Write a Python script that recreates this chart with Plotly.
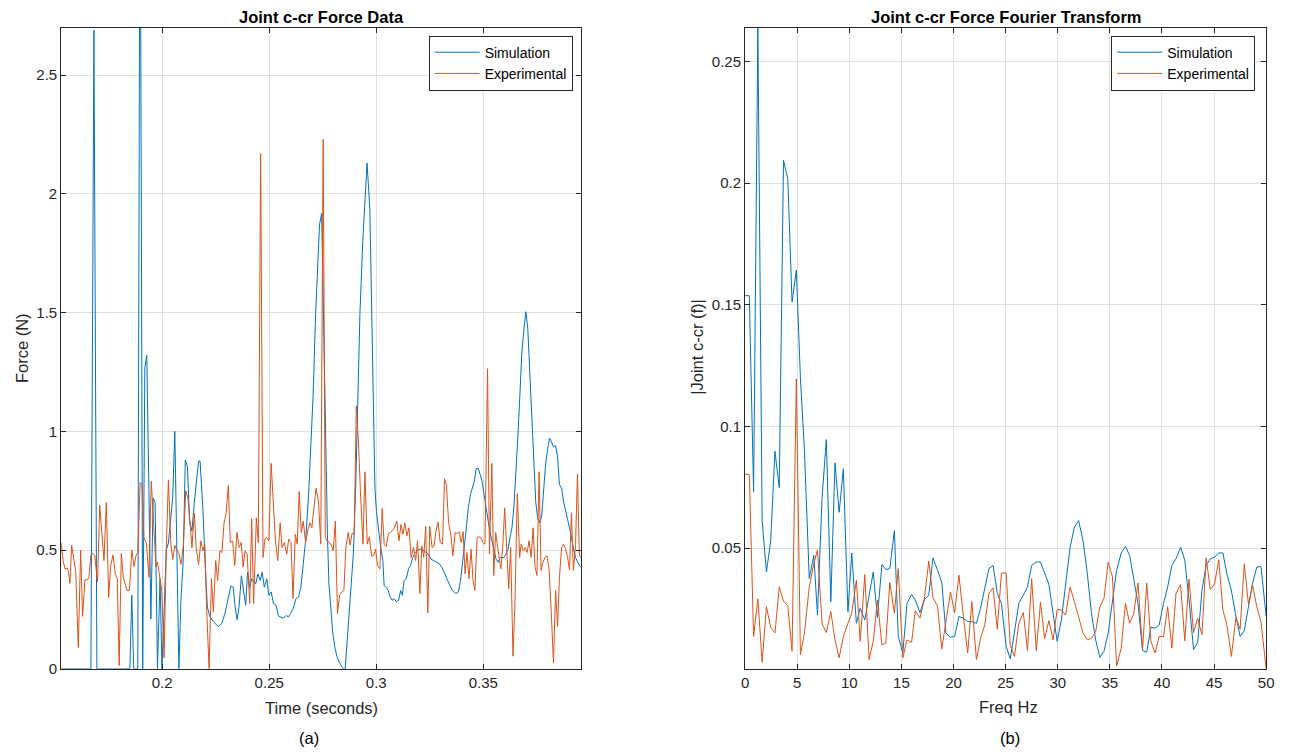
import plotly.graph_objects as go

# ---- Time-domain joint force (N) ----
sim_time = [
    0.1528, 0.1667, 0.1681, 0.1695, 0.1849, 0.1858, 0.1867, 0.1886, 0.1897, 0.1909,
    0.1919, 0.1928, 0.1938, 0.1947, 0.1958, 0.1967, 0.1978, 0.1990, 0.1999, 0.2009,
    0.2019, 0.2029, 0.2040, 0.2049, 0.2059, 0.2068, 0.2078, 0.2088, 0.2098, 0.2108,
    0.2118, 0.2128, 0.2139, 0.2150, 0.2161, 0.2170, 0.2177, 0.2190, 0.2200, 0.2211,
    0.2223, 0.2239, 0.2262, 0.2278, 0.2293, 0.2309, 0.2321, 0.2332, 0.2339, 0.2350,
    0.2359, 0.2370, 0.2381, 0.2390, 0.2399, 0.2409, 0.2418, 0.2427, 0.2437, 0.2447,
    0.2458, 0.2467, 0.2477, 0.2489, 0.2498, 0.2509, 0.2520, 0.2532, 0.2544, 0.2555,
    0.2566, 0.2579, 0.2589, 0.2600, 0.2612, 0.2625, 0.2637, 0.2648, 0.2659, 0.2671,
    0.2684, 0.2696, 0.2705, 0.2717, 0.2727, 0.2735, 0.2745, 0.2757, 0.2764, 0.2772,
    0.2779, 0.2788, 0.2797, 0.2806, 0.2816, 0.2827, 0.2837, 0.2846, 0.2855, 0.2863,
    0.2873, 0.2883, 0.2893, 0.2904, 0.2913, 0.2924, 0.2937, 0.2949, 0.2957, 0.2970,
    0.2978, 0.2987, 0.2994, 0.3001, 0.3012, 0.3021, 0.3031, 0.3037, 0.3046, 0.3056,
    0.3065, 0.3074, 0.3083, 0.3094, 0.3105, 0.3114, 0.3122, 0.3130, 0.3140, 0.3151,
    0.3160, 0.3171, 0.3182, 0.3194, 0.3207, 0.3219, 0.3231, 0.3244, 0.3256, 0.3269,
    0.3281, 0.3293, 0.3306, 0.3318, 0.3330, 0.3343, 0.3355, 0.3372, 0.3384, 0.3394,
    0.3403, 0.3412, 0.3421, 0.3430, 0.3440, 0.3449, 0.3458, 0.3467, 0.3477, 0.3486,
    0.3495, 0.3504, 0.3514, 0.3523, 0.3532, 0.3542, 0.3551, 0.3560, 0.3569, 0.3579,
    0.3588, 0.3597, 0.3606, 0.3616, 0.3625, 0.3634, 0.3643, 0.3653, 0.3662, 0.3671,
    0.3680, 0.3690, 0.3699, 0.3708, 0.3717, 0.3727, 0.3736, 0.3745, 0.3754, 0.3764,
    0.3773, 0.3782, 0.3791, 0.3801, 0.3810, 0.3819, 0.3828, 0.3838, 0.3847, 0.3856,
    0.3866, 0.3875, 0.3884, 0.3894, 0.3903, 0.3912, 0.3921, 0.3931, 0.3940, 0.3949,
    0.3958,
]
sim_force = [
    0.0, 0.0, 2.69, 0.0, 0.0, 0.31, 0.0, 0.0, 3.6, 0.0,
    1.27, 1.32, 0.75, 0.21, 0.72, 0.70, 0.0, 0.38, 0.0, 0.22,
    0.50, 0.53, 0.62, 0.72, 1.0, 0.5, 0.0, 0.30, 0.45, 0.88,
    0.85, 0.62, 0.58, 0.70, 0.80, 0.875, 0.875, 0.678, 0.455, 0.26,
    0.22, 0.199, 0.178, 0.19, 0.233, 0.303, 0.349, 0.344, 0.275, 0.206,
    0.261, 0.392, 0.33, 0.268, 0.407, 0.344, 0.379, 0.372, 0.358, 0.40,
    0.372, 0.407, 0.344, 0.379, 0.31, 0.324, 0.275, 0.268, 0.222, 0.219,
    0.213, 0.225, 0.219, 0.233, 0.254, 0.296, 0.303, 0.344, 0.442, 0.55,
    0.733, 0.942, 1.15, 1.50, 1.75, 1.87, 1.918, 1.289, 0.9, 0.567,
    0.358, 0.233, 0.15, 0.094, 0.053, 0.028, 0.011, 0.0, 0.0, 0.094,
    0.233, 0.33, 0.483, 0.761, 1.136, 1.5, 1.80, 2.01, 2.13, 1.94,
    1.5, 1.01, 0.76, 0.663, 0.567, 0.511, 0.455, 0.351, 0.344, 0.33,
    0.303, 0.289, 0.296, 0.282, 0.289, 0.33, 0.31, 0.372, 0.379, 0.421,
    0.435, 0.469, 0.49, 0.50, 0.504, 0.50, 0.49, 0.483, 0.462, 0.456,
    0.449, 0.444, 0.428, 0.407, 0.379, 0.351, 0.33, 0.317, 0.324, 0.372,
    0.44, 0.511, 0.594, 0.678, 0.733, 0.761, 0.789, 0.844, 0.844, 0.817,
    0.789, 0.733, 0.667, 0.622, 0.574, 0.532, 0.497, 0.462, 0.449, 0.469,
    0.469, 0.469, 0.483, 0.504, 0.553, 0.594, 0.678, 0.817, 0.983, 1.15,
    1.33, 1.43, 1.504, 1.435, 1.25, 1.04, 0.844, 0.706, 0.636, 0.615,
    0.643, 0.747, 0.858, 0.928, 0.972, 0.955, 0.935, 0.94, 0.893, 0.775,
    0.761, 0.706, 0.664, 0.629, 0.594, 0.546, 0.511, 0.469, 0.449, 0.435,
    0.428,
]

exp_time = [
    0.1528, 0.1537, 0.1546, 0.1556, 0.1562, 0.1569, 0.1577, 0.1586, 0.1596, 0.1608,
    0.1619, 0.1628, 0.1639, 0.1648, 0.1657, 0.1667, 0.1676, 0.1685, 0.1698, 0.1708,
    0.1721, 0.1728, 0.1739, 0.1750, 0.1759, 0.1770, 0.1781, 0.1790, 0.1799, 0.1809,
    0.1818, 0.1827, 0.1836, 0.1847, 0.1858, 0.1869, 0.1877, 0.1886, 0.1897, 0.1906,
    0.1915, 0.1926, 0.1938, 0.1949, 0.1960, 0.1971, 0.1978, 0.1988, 0.1998, 0.2009,
    0.2019, 0.2029, 0.2040, 0.2049, 0.2059, 0.2068, 0.2077, 0.2088, 0.2099, 0.2110,
    0.2120, 0.2130, 0.2139, 0.2150, 0.2159, 0.2170, 0.2181, 0.2190, 0.2199, 0.2208,
    0.2219, 0.2230, 0.2239, 0.2250, 0.2259, 0.2270, 0.2279, 0.2289, 0.2298, 0.2309,
    0.2318, 0.2329, 0.2339, 0.2349, 0.2360, 0.2369, 0.2378, 0.2387, 0.2397, 0.2409,
    0.2418, 0.2427, 0.2440, 0.2449, 0.2460, 0.2471, 0.2480, 0.2489, 0.2498, 0.2509,
    0.2520, 0.2529, 0.2540, 0.2551, 0.2560, 0.2571, 0.2582, 0.2591, 0.2602, 0.2611,
    0.2622, 0.2631, 0.2640, 0.2650, 0.2659, 0.2670, 0.2680, 0.2690, 0.2699, 0.2710,
    0.2719, 0.2730, 0.2741, 0.2752, 0.2762, 0.2770, 0.2781, 0.2790, 0.2799, 0.2809,
    0.2819, 0.2829, 0.2839, 0.2849, 0.2858, 0.2869, 0.2878, 0.2887, 0.2897, 0.2907,
    0.2917, 0.2926, 0.2938, 0.2947, 0.2958, 0.2968, 0.2978, 0.2988, 0.2997, 0.3006,
    0.3017, 0.3028, 0.3037, 0.3046, 0.3057, 0.3066, 0.3076, 0.3085, 0.3096, 0.3106,
    0.3116, 0.3125, 0.3134, 0.3143, 0.3153, 0.3163, 0.3174, 0.3184, 0.3193, 0.3204,
    0.3213, 0.3222, 0.3231, 0.3241, 0.3250, 0.3261, 0.3270, 0.3279, 0.3289, 0.3299,
    0.3310, 0.3319, 0.3328, 0.3338, 0.3348, 0.3358, 0.3369, 0.3378, 0.3387, 0.3397,
    0.3406, 0.3415, 0.3424, 0.3433, 0.3443, 0.3452, 0.3461, 0.3471, 0.3480, 0.3489,
    0.3498, 0.3508, 0.3520, 0.3529, 0.3540, 0.3549, 0.3558, 0.3566, 0.3574, 0.3582,
    0.3591, 0.3600, 0.3610, 0.3619, 0.3628, 0.3639, 0.3648, 0.3659, 0.3670, 0.3677,
    0.3687, 0.3696, 0.3705, 0.3714, 0.3724, 0.3733, 0.3742, 0.3751, 0.3761, 0.3770,
    0.3779, 0.3788, 0.3798, 0.3808, 0.3818, 0.3828, 0.3838, 0.3847, 0.3856, 0.3866,
    0.3875, 0.3884, 0.3894, 0.3903, 0.3912, 0.3921, 0.3931, 0.3940, 0.3949, 0.3958,
]
exp_force = [
    0.53, 0.456, 0.42, 0.425, 0.41, 0.36, 0.52, 0.46, 0.41, 0.09,
    0.50, 0.22, 0.375, 0.375, 0.38, 0.48, 0.486, 0.476, 0.365, 0.69,
    0.53, 0.456, 0.70, 0.30, 0.43, 0.48, 0.40, 0.38, 0.014, 0.486,
    0.386, 0.36, 0.33, 0.33, 0.50, 0.43, 0.476, 0.49, 0.785, 0.775,
    0.55, 0.53, 0.386, 0.79, 0.594, 0.43, 0.45, 0.38, 0.33, 0.046,
    0.50, 0.796, 0.53, 0.46, 0.52, 0.50, 0.49, 0.44, 0.52, 0.75,
    0.72, 0.62, 0.51, 0.656, 0.51, 0.44, 0.539, 0.497, 0.525, 0.247,
    0.0, 0.379, 0.24, 0.456, 0.372, 0.497, 0.49, 0.615, 0.65, 0.772,
    0.532, 0.539, 0.435, 0.574, 0.511, 0.532, 0.428, 0.497, 0.483, 0.275,
    0.633, 0.275, 0.636, 0.532, 2.17, 0.469, 0.547, 0.553, 0.539, 0.865,
    0.664, 0.539, 0.456, 0.615, 0.511, 0.532, 0.483, 0.546, 0.532, 0.296,
    0.567, 0.525, 0.747, 0.574, 0.622, 0.532, 0.581, 0.615, 0.594, 0.678,
    0.761, 0.706, 0.525, 2.23, 0.553, 0.539, 0.532, 0.522, 0.497, 0.622,
    0.233, 0.31, 0.324, 0.33, 0.511, 0.574, 0.522, 0.571, 0.567, 1.108,
    0.955, 0.747, 0.525, 0.83, 0.525, 0.556, 0.476, 0.476, 0.504, 0.435,
    0.421, 0.675, 0.525, 0.515, 0.569, 0.574, 0.583, 0.594, 0.622, 0.539,
    0.608, 0.567, 0.615, 0.56, 0.594, 0.469, 0.511, 0.456, 0.539, 0.317,
    0.518, 0.469, 0.60, 0.236, 0.60, 0.511, 0.518, 0.581, 0.618, 0.532,
    0.525, 0.80, 0.775, 0.615, 0.567, 0.476, 0.574, 0.569, 0.578, 0.532,
    0.578, 0.40, 0.49, 0.379, 0.504, 0.375, 0.33, 0.553, 0.556, 0.553,
    0.532, 0.525, 1.264, 0.483, 0.865, 0.393, 0.574, 0.511, 0.469, 0.421,
    0.511, 0.678, 0.497, 0.3375, 0.511, 0.053, 0.275, 0.7375, 0.469, 0.525,
    0.497, 0.511, 0.49, 0.539, 0.469, 0.594, 0.428, 0.393, 0.83, 0.414,
    0.449, 0.469, 0.476, 0.414, 0.233, 0.025, 0.33, 0.178, 0.386, 0.511,
    0.525, 0.508, 0.469, 0.417, 0.657, 0.414, 0.518, 0.819, 0.476, 0.469,
]

# ---- Fourier magnitude spectra ----
freq_hz = [
    0.00, 0.41, 0.82, 1.23, 1.64, 2.05, 2.46, 2.87, 3.28, 3.69,
    4.10, 4.51, 4.92, 5.31, 5.70, 6.16, 6.60, 6.95, 7.39, 7.80,
    8.23, 8.63, 9.03, 9.43, 9.87, 10.24, 10.68, 11.05, 11.49, 11.90,
    12.30, 12.70, 13.13, 13.50, 13.89, 14.33, 14.70, 15.14, 15.54, 15.98,
    16.34, 16.78, 17.19, 17.63, 18.03, 18.47, 18.87, 19.27, 19.71, 20.11,
    20.52, 20.95, 21.36, 21.76, 22.20, 22.60, 23.00, 23.40, 23.80, 24.20,
    24.60, 25.05, 25.45, 25.85, 26.27, 26.70, 27.10, 27.50, 27.94, 28.35,
    28.74, 29.15, 29.55, 29.95, 30.35, 30.75, 31.19, 31.60, 32.00, 32.43,
    32.84, 33.24, 33.64, 34.04, 34.44, 34.84, 35.25, 35.65, 36.09, 36.50,
    36.90, 37.30, 37.70, 38.14, 38.54, 38.94, 39.34, 39.74, 40.15, 40.55,
    40.95, 41.35, 41.79, 42.19, 42.60, 43.03, 43.43, 43.84, 44.24, 44.64,
    45.05, 45.45, 45.85, 46.26, 46.66, 47.10, 47.50, 47.90, 48.30, 48.70,
    49.10, 49.50, 50.00,
]
sim_fft = [
    0.1537, 0.1537, 0.0732, 0.2638, 0.0614, 0.0402, 0.0529, 0.0898, 0.0749, 0.2093,
    0.2017, 0.1512, 0.1642, 0.12, 0.09, 0.0375, 0.047, 0.0225, 0.0708, 0.0946,
    0.028, 0.085, 0.0647, 0.0826, 0.0239, 0.048, 0.0191, 0.0253, 0.0205, 0.0314,
    0.0402, 0.0215, 0.0433, 0.0412, 0.0416, 0.0572, 0.0137, 0.0069, 0.0273, 0.031,
    0.0287, 0.0235, 0.0287, 0.0307, 0.046, 0.0409, 0.0361, 0.0151, 0.0134, 0.0137,
    0.0219, 0.0212, 0.0198, 0.0198, 0.0191, 0.0253, 0.0334, 0.0416, 0.0429, 0.0314,
    0.0273, 0.0096, 0.0045, 0.0164, 0.0273, 0.0307, 0.0341, 0.0429, 0.0443, 0.0443,
    0.0395, 0.0352, 0.0232, 0.0117, 0.0205, 0.0341, 0.0504, 0.0586, 0.0613, 0.0531,
    0.0395, 0.0232, 0.0123, 0.0051, 0.0076, 0.0151, 0.0287, 0.0409, 0.048, 0.0507,
    0.047, 0.0368, 0.0273, 0.0079, 0.0072, 0.0175, 0.0171, 0.0185, 0.0273, 0.0341,
    0.0429, 0.0456, 0.0504, 0.045, 0.0287, 0.0083, 0.0113, 0.0327, 0.0429, 0.0456,
    0.0463, 0.048, 0.048, 0.0389, 0.0327, 0.0219, 0.0137, 0.0161, 0.0259, 0.0357,
    0.0422, 0.0425, 0.0219,
]
exp_fft = [
    0.0803, 0.0803, 0.0137, 0.0292, 0.0031, 0.0259, 0.0175, 0.0151, 0.0341, 0.0282,
    0.0263, 0.0076, 0.1195, 0.0062, 0.0151, 0.0341, 0.0436, 0.0493, 0.0189, 0.0153,
    0.0239, 0.0123, 0.0049, 0.0137, 0.0191, 0.0232, 0.0368, 0.0117, 0.0391, 0.0042,
    0.0117, 0.0287, 0.0103, 0.011, 0.0359, 0.0232, 0.0416, 0.0049, 0.0123, 0.0113,
    0.0243, 0.0212, 0.0287, 0.0447, 0.0297, 0.0262, 0.0085, 0.0198, 0.032, 0.0235,
    0.0389, 0.0219, 0.0069, 0.028, 0.0042, 0.013, 0.0185, 0.0314, 0.0337, 0.0167,
    0.0398, 0.0398, 0.0099, 0.0055, 0.0191, 0.0236, 0.0079, 0.0375, 0.0079, 0.0278,
    0.0128, 0.0202, 0.0123, 0.0248, 0.0246, 0.0225, 0.0341, 0.028, 0.0221, 0.0151,
    0.0123, 0.013, 0.0157, 0.0259, 0.0293, 0.0443, 0.0382, 0.0015, 0.0089, 0.0273,
    0.0191, 0.0232, 0.0357, 0.0083, 0.0357, 0.0117, 0.0069, 0.0137, 0.0137, 0.0259,
    0.0089, 0.0314, 0.035, 0.0119, 0.0372, 0.0153, 0.0212, 0.0144, 0.046, 0.033,
    0.0352, 0.0452, 0.0246, 0.0178, 0.0055, 0.0215, 0.0167, 0.0436, 0.0269, 0.0348,
    0.0259, 0.0198, 0.0004,
]

time_ticks = [0.2, 0.25, 0.3, 0.35]
time_tick_text = ["0.2", "0.25", "0.3", "0.35"]
force_ticks = [0, 0.5, 1, 1.5, 2, 2.5]
force_tick_text = ["0", "0.5", "1", "1.5", "2", "2.5"]
freq_ticks = [0, 5, 10, 15, 20, 25, 30, 35, 40, 45, 50]
mag_ticks = [0.05, 0.1, 0.15, 0.2, 0.25]
mag_tick_text = ["0.05", "0.1", "0.15", "0.2", "0.25"]

# ---- styling ----
W, H = 1292, 756
BLUE = "#0072BD"
ORANGE = "#D95319"
AX = "#262626"
GRID = "#e0e0e0"
FONT = "Liberation Sans, Arial, Helvetica, sans-serif"


def px(x):
    return x / W


def py(y):
    return 1 - y / H


axis_common = dict(
    showline=True, linecolor=AX, linewidth=1, mirror="ticks",
    ticks="inside", ticklen=5, tickwidth=1, tickcolor=AX,
    showgrid=True, gridcolor=GRID, gridwidth=1, zeroline=False,
    tickfont=dict(family=FONT, size=15, color=AX),
)

fig = go.Figure()
fig.add_trace(go.Scatter(x=sim_time, y=sim_force, mode="lines", name="Simulation",
                         line=dict(color=BLUE, width=1), xaxis="x", yaxis="y",
                         legend="legend"))
fig.add_trace(go.Scatter(x=exp_time, y=exp_force, mode="lines", name="Experimental",
                         line=dict(color=ORANGE, width=1), xaxis="x", yaxis="y",
                         legend="legend"))
fig.add_trace(go.Scatter(x=freq_hz, y=sim_fft, mode="lines", name="Simulation",
                         line=dict(color=BLUE, width=1), xaxis="x2", yaxis="y2",
                         legend="legend2"))
fig.add_trace(go.Scatter(x=freq_hz, y=exp_fft, mode="lines", name="Experimental",
                         line=dict(color=ORANGE, width=1), xaxis="x2", yaxis="y2",
                         legend="legend2"))

left_x = (57.7, 582.7)
right_x = (748.0, 1274.0)
plot_y = (28.0, 676.0)

legend_common = dict(
    bgcolor="white", bordercolor=AX, borderwidth=1,
    font=dict(family=FONT, size=14, color="black"),
    xanchor="right", yanchor="top", itemwidth=45,
    tracegroupgap=0,
)


def label(text, x, y, size=16.5, color=AX, angle=0):
    return dict(text=text, x=px(x), y=py(y), xref="paper", yref="paper",
                showarrow=False, textangle=angle, xanchor="center", yanchor="middle",
                font=dict(family=FONT, size=size, color=color))


annotations = [
    label("<b>Joint c-cr Force Data</b>", 320.2, 17, color="black"),
    label("<b>Joint c-cr Force Fourier Transform</b>", 1011.0, 17, color="black"),
    label("Time (seconds)", 320.2, 716),
    label("Freq Hz", 1013.5, 715),
    label("(a)", 307.7, 746, color="black"),
    label("(b)", 1015.0, 746, color="black"),
    label("Force (N)", 18, 352, angle=-90),
    label("|Joint c-cr (f)|", 700, 350, angle=-90),
]

fig.update_layout(
    width=W, height=H,
    margin=dict(l=0, r=0, t=0, b=0),
    paper_bgcolor="white", plot_bgcolor="white",
    showlegend=True,
    xaxis=dict(domain=[px(left_x[0]), px(left_x[1])], range=[0.1528, 0.3958],
               tickvals=time_ticks, ticktext=time_tick_text, anchor="y", **axis_common),
    yaxis=dict(domain=[py(plot_y[1]), py(plot_y[0])], range=[0, 2.7],
               tickvals=force_ticks, ticktext=force_tick_text, anchor="x", **axis_common),
    xaxis2=dict(domain=[px(right_x[0]), px(right_x[1])], range=[0, 50],
                tickvals=freq_ticks, anchor="y2", **axis_common),
    yaxis2=dict(domain=[py(plot_y[1]), py(plot_y[0])], range=[0.0004, 0.2638],
                tickvals=mag_ticks, ticktext=mag_tick_text, anchor="x2", **axis_common),
    legend=dict(x=px(574), y=py(36), **legend_common),
    legend2=dict(x=px(1263), y=py(36), **legend_common),
    annotations=annotations,
)

fig.write_html("out.html")
